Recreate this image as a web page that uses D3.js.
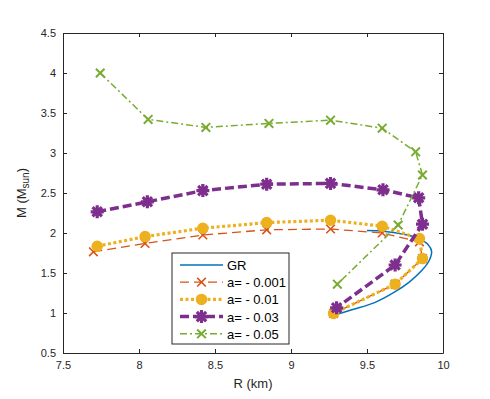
<!DOCTYPE html>
<html>
<head>
<meta charset="utf-8">
<script src="https://cdn.jsdelivr.net/npm/d3@7"></script>
<style>
  body { margin: 0; background: #fff; }
  text { font-family: "Liberation Sans", Arial, sans-serif; }
</style>
</head>
<body>
<div id="chart"></div>
<script>
// data
var grR = [9.28, 9.40, 9.55, 9.68, 9.78, 9.86, 9.91, 9.925, 9.90, 9.84, 9.75, 9.62, 9.50];
var grM = [0.97, 1.04, 1.13, 1.26, 1.39, 1.53, 1.66, 1.77, 1.86, 1.93, 1.98, 2.02, 2.03];

var a001R = [7.70, 8.04, 8.42, 8.84, 9.26, 9.60, 9.845, 9.865, 9.685, 9.28];
var a001M = [1.765, 1.87, 1.975, 2.04, 2.05, 2.00, 1.89, 1.68, 1.36, 0.995];

var a01R = [7.725, 8.04, 8.42, 8.84, 9.26, 9.60, 9.845, 9.865, 9.685, 9.28];
var a01M = [1.835, 1.955, 2.06, 2.13, 2.16, 2.085, 1.93, 1.68, 1.36, 0.995];

var a03R = [7.725, 8.055, 8.42, 8.84, 9.26, 9.605, 9.84, 9.865, 9.685, 9.30];
var a03M = [2.265, 2.39, 2.53, 2.61, 2.62, 2.54, 2.44, 2.11, 1.60, 1.065];

var a05R = [7.745, 8.06, 8.44, 8.855, 9.26, 9.60, 9.82, 9.865, 9.705, 9.305];
var a05M = [4.00, 3.42, 3.32, 3.37, 3.41, 3.31, 3.015, 2.725, 2.10, 1.36];

var xTicks = [7.5, 8, 8.5, 9, 9.5, 10];
var yTicks = [0.5, 1, 1.5, 2, 2.5, 3, 3.5, 4, 4.5];

var svgWidth = 490, svgHeight = 399;
var margin = { top: 33, right: 47, bottom: 46, left: 63 };
var width = svgWidth - margin.left - margin.right;
var height = svgHeight - margin.top - margin.bottom;

var svg = d3.select("#chart").append("svg")
  .attr("width", svgWidth)
  .attr("height", svgHeight);

var g = svg.append("g")
  .attr("transform", `translate(${margin.left}, ${margin.top})`);

var x = d3.scaleLinear().domain([7.5, 10]).range([0, width]);
var y = d3.scaleLinear().domain([0.5, 4.5]).range([height, 0]);

var axisColor = "#262626";

// axes, ticks inside like matlab
var bottomAxis = d3.axisBottom(x).tickValues(xTicks).tickFormat(d3.format("")).tickSizeInner(-4).tickSizeOuter(0).tickPadding(8);
var leftAxis = d3.axisLeft(y).tickValues(yTicks).tickFormat(d3.format("")).tickSizeInner(-4).tickSizeOuter(0).tickPadding(7);

var xAxis = g.append("g").attr("transform", `translate(0, ${height})`).call(bottomAxis);
var yAxis = g.append("g").call(leftAxis);
g.append("g").call(d3.axisTop(x).tickValues(xTicks).tickFormat("").tickSizeInner(-4).tickSizeOuter(0));
g.append("g").attr("transform", `translate(${width}, 0)`)
  .call(d3.axisRight(y).tickValues(yTicks).tickFormat("").tickSizeInner(-4).tickSizeOuter(0));

g.selectAll(".domain, .tick line").attr("stroke", axisColor);
g.selectAll(".tick text").attr("fill", axisColor).style("font-size", "11px")
  .style("font-family", "Liberation Sans, Arial, sans-serif");

// axis labels
g.append("text")
  .attr("x", width / 2)
  .attr("y", height + 35)
  .attr("text-anchor", "middle")
  .attr("fill", axisColor)
  .style("font-size", "13px")
  .text("R (km)");

var yl = g.append("text")
  .attr("transform", `translate(-37, ${height / 2}) rotate(-90)`)
  .attr("text-anchor", "middle")
  .attr("fill", axisColor)
  .style("font-size", "13px");
yl.append("tspan").text("M (M");
yl.append("tspan").attr("dy", 3).style("font-size", "10px").text("sun");
yl.append("tspan").attr("dy", -3).text(")");

var line = d3.line().x(d => x(d[0])).y(d => y(d[1]));

function zipData(rs, ms) {
  return rs.map((r, i) => [r, ms[i]]);
}

// marker drawers
function drawX(sel, cx, cy, s, color, w) {
  sel.append("path")
    .attr("d", `M${cx - s},${cy - s}L${cx + s},${cy + s}M${cx - s},${cy + s}L${cx + s},${cy - s}`)
    .attr("stroke", color).attr("stroke-width", w).attr("fill", "none");
}
function drawO(sel, cx, cy, r, color) {
  sel.append("circle").attr("cx", cx).attr("cy", cy).attr("r", r)
    .attr("fill", color).attr("stroke", color).attr("stroke-width", 1.5);
}
function drawStar(sel, cx, cy, s, color, w) {
  var d2 = s * 0.72;
  sel.append("path")
    .attr("d", `M${cx - s},${cy}L${cx + s},${cy}M${cx},${cy - s}L${cx},${cy + s}` +
      `M${cx - d2},${cy - d2}L${cx + d2},${cy + d2}M${cx - d2},${cy + d2}L${cx + d2},${cy - d2}`)
    .attr("stroke", color).attr("stroke-width", w).attr("fill", "none");
}

var series = [
  { name: "GR", r: grR, m: grM, color: "#0072BD", width: 1.5, dash: null, marker: null },
  { name: "a= - 0.001", r: a001R, m: a001M, color: "#D95319", width: 1.3, dash: "9,5", marker: "x" },
  { name: "a= - 0.01", r: a01R, m: a01M, color: "#EDB120", width: 3.2, dash: "3,2.5", marker: "o" },
  { name: "a= - 0.03", r: a03R, m: a03M, color: "#7E2F8E", width: 3.5, dash: "9,4", marker: "*" },
  { name: "a= - 0.05", r: a05R, m: a05M, color: "#77AC30", width: 1.5, dash: "7,3,2,3", marker: "xg" }
];

function drawMarker(sel, type, cx, cy, color) {
  if (type === "x") drawX(sel, cx, cy, 4.3, color, 1.6);
  else if (type === "o") drawO(sel, cx, cy, 5, color);
  else if (type === "*") drawStar(sel, cx, cy, 6.5, color, 3.2);
  else if (type === "xg") drawX(sel, cx, cy, 4.3, color, 2);
}

// draw lines, GR smooth
series.forEach(function(s, i) {
  var data = zipData(s.r, s.m);
  var ln = i === 0 ? d3.line().x(d => x(d[0])).y(d => y(d[1])).curve(d3.curveCatmullRom) : line;
  g.append("path")
    .datum(data)
    .attr("d", ln)
    .attr("fill", "none")
    .attr("stroke", s.color)
    .attr("stroke-width", s.width)
    .attr("stroke-dasharray", s.dash);
  if (s.marker) {
    var mg = g.append("g");
    data.forEach(d => drawMarker(mg, s.marker, x(d[0]), y(d[1]), s.color));
  }
});

// legend
var lg = svg.append("g").attr("transform", "translate(172, 253)");
lg.append("rect")
  .attr("width", 117).attr("height", 91)
  .attr("fill", "#fff").attr("stroke", axisColor).attr("stroke-width", 1);

series.forEach(function(s, i) {
  var ly = 12 + i * 17.2;
  lg.append("line")
    .attr("x1", 8).attr("x2", 51).attr("y1", ly).attr("y2", ly)
    .attr("stroke", s.color).attr("stroke-width", s.width)
    .attr("stroke-dasharray", s.dash);
  if (s.marker) drawMarker(lg, s.marker, 29.5, ly, s.color);
  lg.append("text")
    .attr("x", 55).attr("y", ly + 5)
    .attr("fill", "#000")
    .style("font-size", "13px")
    .text(s.name);
});
</script>
</body>
</html>
